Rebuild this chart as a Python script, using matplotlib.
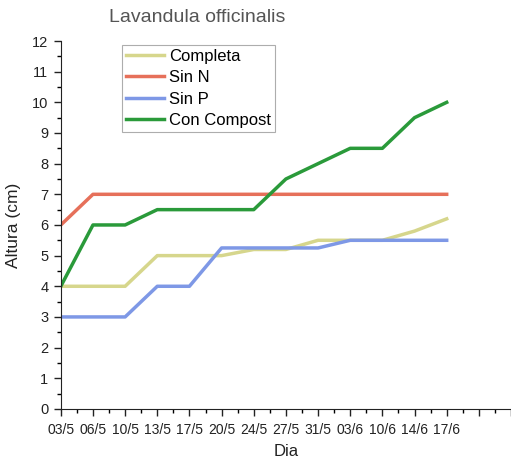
import matplotlib
matplotlib.use('Agg')
import matplotlib.pyplot as plt
from matplotlib.ticker import MultipleLocator

plt.rcParams['font.family'] = ['Liberation Sans', 'DejaVu Sans']

# Data
dias = ['03/5', '06/5', '10/5', '13/5', '17/5', '20/5', '24/5',
        '27/5', '31/5', '03/6', '10/6', '14/6', '17/6']
completa = [4, 4, 4, 5, 5, 5, 5.2, 5.2, 5.5, 5.5, 5.5, 5.8, 6.2]
sin_n = [6, 7, 7, 7, 7, 7, 7, 7, 7, 7, 7, 7, 7]
sin_p = [3, 3, 3, 4, 4, 5.25, 5.25, 5.25, 5.25, 5.5, 5.5, 5.5, 5.5]
con_compost = [4, 6, 6, 6.5, 6.5, 6.5, 6.5, 7.5, 8, 8.5, 8.5, 9.5, 10]

fig = plt.figure(figsize=(5.11, 4.61), dpi=100)
ax = fig.add_axes([0.119, 0.113, 0.881, 0.798])

x = list(range(len(dias)))
ax.plot(x, completa, color='#d6d68c', linewidth=2.5, label='Completa')
ax.plot(x, sin_n, color='#e6705a', linewidth=2.5, label='Sin N')
ax.plot(x, sin_p, color='#7e98e6', linewidth=2.5, label='Sin P')
ax.plot(x, con_compost, color='#2a9a3a', linewidth=2.5, label='Con Compost')

# Axes limits and ticks
ax.set_xlim(0, 14)
ax.set_ylim(0, 12)
ax.set_xticks(range(15))
ax.set_xticklabels(dias + ['', ''])
ax.xaxis.set_minor_locator(MultipleLocator(0.5))
ax.yaxis.set_major_locator(MultipleLocator(1))
ax.yaxis.set_minor_locator(MultipleLocator(0.5))
ax.tick_params(which='major', length=5, width=1, colors='#222222')
ax.tick_params(axis='x', labelsize=10, pad=5)
ax.tick_params(axis='y', labelsize=10.5, pad=4)
ax.tick_params(which='minor', length=3, width=1)

ax.spines['top'].set_visible(False)
ax.spines['right'].set_visible(False)
for s in ['left', 'bottom']:
    ax.spines[s].set_color('#222222')

ax.set_xlabel('Dia', fontsize=12, color='#222222', labelpad=5)
ax.set_ylabel('Altura (cm)', fontsize=12.5, color='#222222', labelpad=8)
fig.text(0.386, 0.961, 'Lavandula officinalis', fontsize=14, color='#555555',
         ha='center', va='center')

leg = ax.legend(loc='upper left', bbox_to_anchor=(0.135, 0.99), fontsize=12,
                frameon=True, fancybox=False, edgecolor='#999999',
                borderpad=0.25, handlelength=2.3, handletextpad=0.3,
                labelspacing=0.38, borderaxespad=0)
leg.get_frame().set_linewidth(0.8)

fig.savefig('out.png', dpi=100)
